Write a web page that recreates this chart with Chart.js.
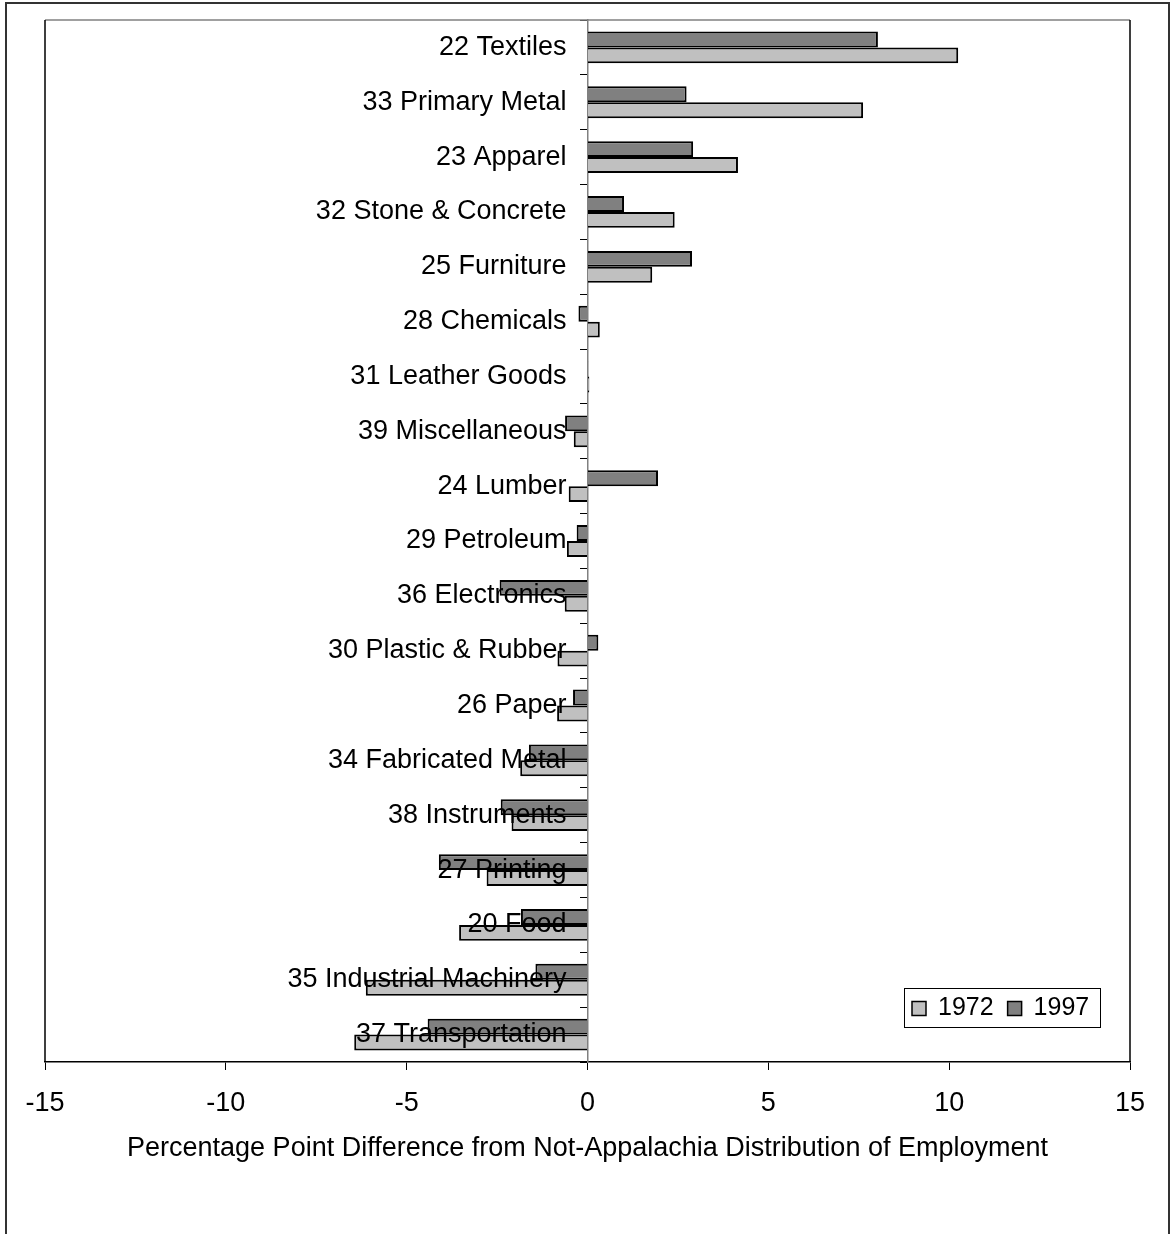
<!DOCTYPE html>
<html>
<head>
<meta charset="utf-8">
<script src="https://cdn.jsdelivr.net/npm/chart.js@4"></script>
<style>
  html, body { margin: 0; padding: 0; background: #fff; }
  #wrap { width: 1170px; height: 1234px; }
</style>
</head>
<body>
<div id="wrap"><canvas id="chart" width="1170" height="1234"></canvas></div>
<script>
// Data
const industries = [
    '22 Textiles', '33 Primary Metal', '23 Apparel', '32 Stone & Concrete', '25 Furniture',
    '28 Chemicals', '31 Leather Goods', '39 Miscellaneous', '24 Lumber', '29 Petroleum',
    '36 Electronics', '30 Plastic & Rubber', '26 Paper', '34 Fabricated Metal', '38 Instruments',
    '27 Printing', '20 Food', '35 Industrial Machinery', '37 Transportation'
];
const diff1997 = [8.03, 2.74, 2.92, 1.01, 2.89, -0.25, 0.02, -0.62, 1.95, -0.30,
    -2.43, 0.30, -0.40, -1.62, -2.40, -4.11, -1.84, -1.44, -4.42];
const diff1972 = [10.25, 7.62, 4.16, 2.41, 1.79, 0.34, 0.05, -0.38, -0.52, -0.57,
    -0.63, -0.83, -0.84, -1.86, -2.10, -2.79, -3.55, -6.13, -6.45];
const xTicks = [-15, -10, -5, 0, 5, 10, 15];
const axisTitle = 'Percentage Point Difference from Not-Appalachia Distribution of Employment';

const FONT = "'Liberation Sans', Arial, sans-serif";

// Frame around the whole picture and around the plot area
const framePlugin = {
    id: 'frames',
    afterDraw(chart) {
        const { ctx, chartArea } = chart;
        ctx.save();
        // outer frame (open at the bottom)
        ctx.strokeStyle = '#333';
        ctx.lineWidth = 2;
        ctx.beginPath();
        ctx.moveTo(6, 1234);
        ctx.lineTo(6, 3);
        ctx.lineTo(1169, 3);
        ctx.lineTo(1169, 1234);
        ctx.stroke();
        // plot area
        ctx.lineWidth = 1.5;
        ctx.strokeStyle = '#808080';
        ctx.beginPath();
        ctx.moveTo(chartArea.left, chartArea.top);
        ctx.lineTo(chartArea.right, chartArea.top);
        ctx.stroke();
        ctx.strokeStyle = '#000';
        ctx.beginPath();
        ctx.moveTo(chartArea.left, chartArea.top);
        ctx.lineTo(chartArea.left, chartArea.bottom);
        ctx.moveTo(chartArea.right, chartArea.top);
        ctx.lineTo(chartArea.right, chartArea.bottom);
        ctx.stroke();
        ctx.restore();
    }
};

// Boxed legend in the lower right corner of the plot
const boxLegend = {
    id: 'boxLegend',
    afterDraw(chart) {
        const { ctx, chartArea } = chart;
        const items = chart.data.datasets.slice().reverse();
        ctx.save();
        ctx.font = '25px ' + FONT;
        ctx.textBaseline = 'middle';
        const boxW = 196, boxH = 39;
        const x0 = chartArea.right - 30 - boxW;
        const y0 = chartArea.bottom - 35 - boxH;
        ctx.fillStyle = '#fff';
        ctx.fillRect(x0, y0, boxW, boxH);
        ctx.strokeStyle = '#000';
        ctx.lineWidth = 1;
        ctx.strokeRect(x0 + 0.5, y0 + 0.5, boxW, boxH);
        let x = x0 + 8;
        const cy = y0 + boxH / 2 + 1;
        items.forEach(ds => {
            ctx.fillStyle = ds.backgroundColor;
            ctx.fillRect(x, cy - 7, 14, 14);
            ctx.lineWidth = 1.5;
            ctx.strokeStyle = '#000';
            ctx.strokeRect(x, cy - 7, 14, 14);
            ctx.fillStyle = '#000';
            ctx.fillText(ds.label, x + 26, cy);
            x += 26 + ctx.measureText(ds.label).width + 14;
        });
        ctx.restore();
    }
};

new Chart(document.getElementById('chart'), {
    type: 'bar',
    data: {
        labels: industries,
        datasets: [
            { label: '1997', data: diff1997, backgroundColor: '#808080', borderColor: '#000', borderWidth: 2 },
            { label: '1972', data: diff1972, backgroundColor: '#c0c0c0', borderColor: '#000', borderWidth: 2 }
        ]
    },
    options: {
        indexAxis: 'y',
        responsive: false,
        animation: false,
        categoryPercentage: 0.58,
        barPercentage: 1.0,
        layout: { padding: { left: 45, right: 40, top: 20, bottom: 0 } },
        plugins: {
            legend: { display: false },
            tooltip: { enabled: false }
        },
        scales: {
            x: {
                type: 'linear',
                min: -15,
                max: 15,
                afterBuildTicks: scale => { scale.ticks = xTicks.map(v => ({ value: v })); },
                afterFit: scale => { scale.height = 172; },
                grid: { drawOnChartArea: false, tickLength: 8, tickColor: '#000', tickWidth: 1 },
                border: { color: '#000', width: 1.5 },
                ticks: { color: '#000', font: { family: FONT, size: 27 }, padding: 17, maxRotation: 0 },
                title: {
                    display: true,
                    text: axisTitle,
                    color: '#000',
                    font: { family: FONT, size: 27 },
                    padding: { top: 4, bottom: 69 }
                }
            },
            // zero line with the small category ticks
            y: {
                type: 'category',
                position: { x: 0 },
                grid: { drawOnChartArea: false, offset: true, tickLength: 7, tickColor: '#000', tickWidth: 1 },
                border: { color: '#808080', width: 1.5 },
                ticks: { display: false }
            },
            // category names, drawn over the bars just left of zero
            yLabels: {
                type: 'category',
                axis: 'y',
                position: { x: -0.58 },
                offset: true,
                grid: { display: false, offset: true, drawTicks: false },
                border: { display: false },
                ticks: { color: '#000', font: { family: FONT, size: 27 }, padding: 0, autoSkip: false, z: 1 }
            }
        }
    },
    plugins: [framePlugin, boxLegend]
});
</script>
</body>
</html>
